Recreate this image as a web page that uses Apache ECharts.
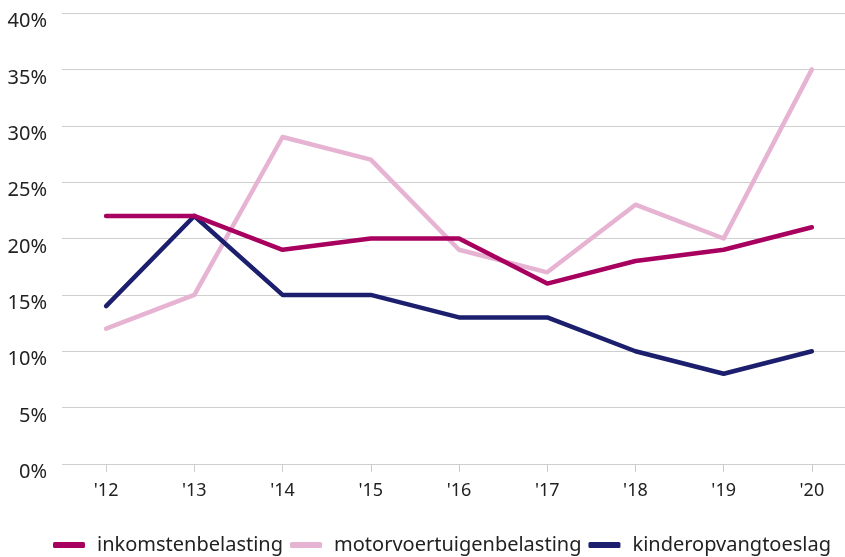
<!DOCTYPE html>
<html>
<head>
<meta charset="utf-8">
<script src="https://cdn.jsdelivr.net/npm/echarts@6/dist/echarts.min.js"></script>
<style>
  html, body { margin: 0; padding: 0; background: #fff; }
  #main { width: 845px; height: 557px; }
</style>
</head>
<body>
<div id="main"></div>
<script>
// jaren
var years = ["'12", "'13", "'14", "'15", "'16", "'17", "'18", "'19", "'20"];
// percentages per regeling
var inkomsten = [22, 22, 19, 20, 20, 16, 18, 19, 21];
var motorrijtuig = [12, 15, 29, 27, 19, 17, 23, 20, 35];
var kinderopvang = [14, 22, 15, 15, 13, 13, 10, 8, 10];

var FONT = '"Noto Sans", Lato, sans-serif';

var chart = echarts.init(document.getElementById('main'));

var lineSeries = function(name, data, color, z){
  return {
    name: name,
    type: 'line',
    data: data,
    symbol: 'none',
    z: z,
    lineStyle: { width: 4.5, color: color, cap: 'round', join: 'round' },
    itemStyle: { color: color }
  };
};

chart.setOption({
  animation: false,
  grid: { left: 62, top: 13, width: 794, height: 451, outerBoundsMode: 'none', containLabel: false },
  xAxis: {
    type: 'category',
    data: years,
    boundaryGap: true,
    axisLine: { show: false },
    axisTick: { show: true, alignWithLabel: true, length: 8, lineStyle: { color: '#cccccc' } },
    axisLabel: { margin: 18, fontSize: 18, color: '#222', fontFamily: FONT }
  },
  yAxis: {
    type: 'value',
    min: 0,
    max: 40,
    interval: 5,
    axisLine: { show: false },
    axisTick: { show: false },
    splitLine: { lineStyle: { color: '#cfcfcf', width: 1 } },
    axisLabel: {
      formatter: '{value}%',
      margin: 15,
      fontSize: 20,
      color: '#222',
      fontFamily: FONT,
      verticalAlign: 'top',
      lineHeight: 17
    }
  },
  legend: {
    bottom: -3,
    left: 48,
    itemWidth: 32,
    itemHeight: 6,
    itemGap: 7,
    icon: 'roundRect',
    textStyle: { fontSize: 20, color: '#222', fontFamily: FONT, padding: [0, 0, 0, 7] },
    data: ['inkomstenbelasting', 'motorvoertuigenbelasting', 'kinderopvangtoeslag']
  },
  series: [
    lineSeries('inkomstenbelasting', inkomsten, '#a8005f', 4),
    lineSeries('motorvoertuigenbelasting', motorrijtuig, '#e6b3d3', 2),
    lineSeries('kinderopvangtoeslag', kinderopvang, '#1b1f6e', 3)
  ]
});
</script>
</body>
</html>
